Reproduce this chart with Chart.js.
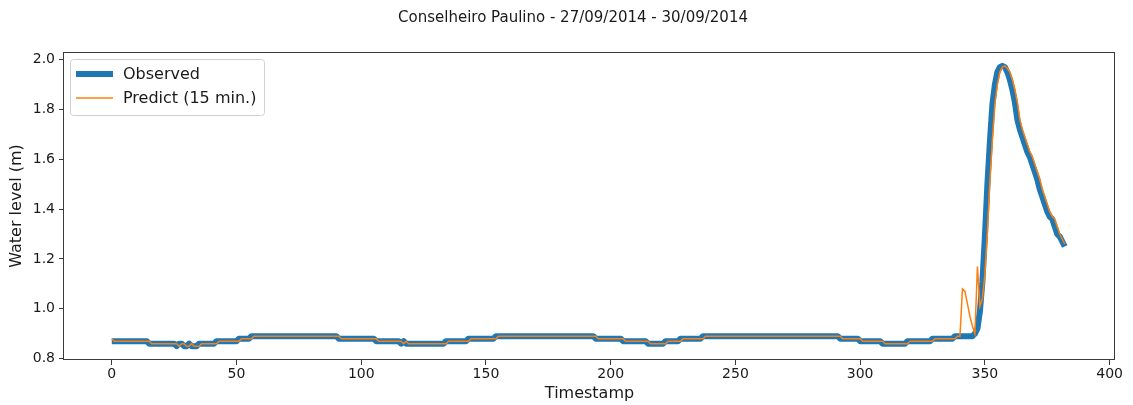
<!DOCTYPE html>
<html>
<head>
<meta charset="utf-8">
<title>Conselheiro Paulino</title>
<script src="https://cdn.jsdelivr.net/npm/chart.js@4.4.1/dist/chart.umd.min.js"></script>
<style>
  html, body { margin: 0; padding: 0; background: #fff; }
  canvas { display: block; }
</style>
</head>
<body>
<canvas id="levelChart" width="1133" height="405"></canvas>
<script>
const chartTitle = 'Conselheiro Paulino - 27/09/2014 - 30/09/2014';
const seriesNames = ['Observed', 'Predict (15 min.)'];
const xTicks = [0, 50, 100, 150, 200, 250, 300, 350, 400];
const yTicks = [0.8, 1.0, 1.2, 1.4, 1.6, 1.8, 2.0];

// water level (m), one reading per timestamp step
const observed = [
  0.87, 0.87, 0.87, 0.87, 0.87, 0.87, 0.87, 0.87, 0.87, 0.87,
  0.87, 0.87, 0.87, 0.87, 0.87, 0.86, 0.86, 0.86, 0.86, 0.86,
  0.86, 0.86, 0.86, 0.86, 0.86, 0.86, 0.85, 0.86, 0.86, 0.85,
  0.85, 0.86, 0.85, 0.85, 0.85, 0.86, 0.86, 0.86, 0.86, 0.86,
  0.86, 0.86, 0.87, 0.87, 0.87, 0.87, 0.87, 0.87, 0.87, 0.87,
  0.87, 0.88, 0.88, 0.88, 0.88, 0.88, 0.89, 0.89, 0.89, 0.89,
  0.89, 0.89, 0.89, 0.89, 0.89, 0.89, 0.89, 0.89, 0.89, 0.89,
  0.89, 0.89, 0.89, 0.89, 0.89, 0.89, 0.89, 0.89, 0.89, 0.89,
  0.89, 0.89, 0.89, 0.89, 0.89, 0.89, 0.89, 0.89, 0.89, 0.89,
  0.89, 0.88, 0.88, 0.88, 0.88, 0.88, 0.88, 0.88, 0.88, 0.88,
  0.88, 0.88, 0.88, 0.88, 0.88, 0.88, 0.87, 0.87, 0.87, 0.87,
  0.87, 0.87, 0.87, 0.87, 0.87, 0.87, 0.86, 0.87, 0.86, 0.86,
  0.86, 0.86, 0.86, 0.86, 0.86, 0.86, 0.86, 0.86, 0.86, 0.86,
  0.86, 0.86, 0.86, 0.86, 0.87, 0.87, 0.87, 0.87, 0.87, 0.87,
  0.87, 0.87, 0.87, 0.88, 0.88, 0.88, 0.88, 0.88, 0.88, 0.88,
  0.88, 0.88, 0.88, 0.88, 0.89, 0.89, 0.89, 0.89, 0.89, 0.89,
  0.89, 0.89, 0.89, 0.89, 0.89, 0.89, 0.89, 0.89, 0.89, 0.89,
  0.89, 0.89, 0.89, 0.89, 0.89, 0.89, 0.89, 0.89, 0.89, 0.89,
  0.89, 0.89, 0.89, 0.89, 0.89, 0.89, 0.89, 0.89, 0.89, 0.89,
  0.89, 0.89, 0.89, 0.89, 0.88, 0.88, 0.88, 0.88, 0.88, 0.88,
  0.88, 0.88, 0.88, 0.88, 0.88, 0.87, 0.87, 0.87, 0.87, 0.87,
  0.87, 0.87, 0.87, 0.87, 0.87, 0.86, 0.86, 0.86, 0.86, 0.86,
  0.86, 0.86, 0.87, 0.87, 0.87, 0.87, 0.87, 0.87, 0.88, 0.88,
  0.88, 0.88, 0.88, 0.88, 0.88, 0.88, 0.88, 0.89, 0.89, 0.89,
  0.89, 0.89, 0.89, 0.89, 0.89, 0.89, 0.89, 0.89, 0.89, 0.89,
  0.89, 0.89, 0.89, 0.89, 0.89, 0.89, 0.89, 0.89, 0.89, 0.89,
  0.89, 0.89, 0.89, 0.89, 0.89, 0.89, 0.89, 0.89, 0.89, 0.89,
  0.89, 0.89, 0.89, 0.89, 0.89, 0.89, 0.89, 0.89, 0.89, 0.89,
  0.89, 0.89, 0.89, 0.89, 0.89, 0.89, 0.89, 0.89, 0.89, 0.89,
  0.89, 0.89, 0.88, 0.88, 0.88, 0.88, 0.88, 0.88, 0.88, 0.88,
  0.87, 0.87, 0.87, 0.87, 0.87, 0.87, 0.87, 0.87, 0.87, 0.86,
  0.86, 0.86, 0.86, 0.86, 0.86, 0.86, 0.86, 0.86, 0.86, 0.87,
  0.87, 0.87, 0.87, 0.87, 0.87, 0.87, 0.87, 0.87, 0.87, 0.88,
  0.88, 0.88, 0.88, 0.88, 0.88, 0.88, 0.88, 0.88, 0.89, 0.89,
  0.89, 0.89, 0.89, 0.89, 0.89, 0.89, 0.90, 0.92, 0.99, 1.11,
  1.29, 1.50, 1.67, 1.82, 1.90, 1.95, 1.97, 1.975, 1.97, 1.95,
  1.92, 1.88, 1.83, 1.76, 1.72, 1.69, 1.66, 1.63, 1.61, 1.58,
  1.55, 1.52, 1.48, 1.45, 1.42, 1.39, 1.37, 1.36, 1.33, 1.30,
  1.29, 1.27, 1.25
];

// 15-minute-ahead forecast for the same timestamps
const predicted = [
  0.88, 0.87, 0.87, 0.87, 0.87, 0.87, 0.87, 0.87, 0.87, 0.87,
  0.87, 0.87, 0.87, 0.87, 0.87, 0.87, 0.86, 0.86, 0.86, 0.86,
  0.86, 0.86, 0.86, 0.86, 0.86, 0.86, 0.86, 0.85, 0.86, 0.86,
  0.85, 0.85, 0.86, 0.85, 0.85, 0.85, 0.86, 0.86, 0.86, 0.86,
  0.86, 0.86, 0.86, 0.87, 0.87, 0.87, 0.87, 0.87, 0.87, 0.87,
  0.87, 0.87, 0.88, 0.88, 0.88, 0.88, 0.88, 0.89, 0.89, 0.89,
  0.89, 0.89, 0.89, 0.89, 0.89, 0.89, 0.89, 0.89, 0.89, 0.89,
  0.89, 0.89, 0.89, 0.89, 0.89, 0.89, 0.89, 0.89, 0.89, 0.89,
  0.89, 0.89, 0.89, 0.89, 0.89, 0.89, 0.89, 0.89, 0.89, 0.89,
  0.89, 0.89, 0.88, 0.88, 0.88, 0.88, 0.88, 0.88, 0.88, 0.88,
  0.88, 0.88, 0.88, 0.88, 0.88, 0.88, 0.88, 0.87, 0.87, 0.87,
  0.87, 0.87, 0.87, 0.87, 0.87, 0.87, 0.87, 0.86, 0.87, 0.86,
  0.86, 0.86, 0.86, 0.86, 0.86, 0.86, 0.86, 0.86, 0.86, 0.86,
  0.86, 0.86, 0.86, 0.86, 0.86, 0.87, 0.87, 0.87, 0.87, 0.87,
  0.87, 0.87, 0.87, 0.87, 0.88, 0.88, 0.88, 0.88, 0.88, 0.88,
  0.88, 0.88, 0.88, 0.88, 0.88, 0.89, 0.89, 0.89, 0.89, 0.89,
  0.89, 0.89, 0.89, 0.89, 0.89, 0.89, 0.89, 0.89, 0.89, 0.89,
  0.89, 0.89, 0.89, 0.89, 0.89, 0.89, 0.89, 0.89, 0.89, 0.89,
  0.89, 0.89, 0.89, 0.89, 0.89, 0.89, 0.89, 0.89, 0.89, 0.89,
  0.89, 0.89, 0.89, 0.89, 0.89, 0.88, 0.88, 0.88, 0.88, 0.88,
  0.88, 0.88, 0.88, 0.88, 0.88, 0.88, 0.87, 0.87, 0.87, 0.87,
  0.87, 0.87, 0.87, 0.87, 0.87, 0.87, 0.86, 0.86, 0.86, 0.86,
  0.86, 0.86, 0.86, 0.87, 0.87, 0.87, 0.87, 0.87, 0.87, 0.88,
  0.88, 0.88, 0.88, 0.88, 0.88, 0.88, 0.88, 0.88, 0.89, 0.89,
  0.89, 0.89, 0.89, 0.89, 0.89, 0.89, 0.89, 0.89, 0.89, 0.89,
  0.89, 0.89, 0.89, 0.89, 0.89, 0.89, 0.89, 0.89, 0.89, 0.89,
  0.89, 0.89, 0.89, 0.89, 0.89, 0.89, 0.89, 0.89, 0.89, 0.89,
  0.89, 0.89, 0.89, 0.89, 0.89, 0.89, 0.89, 0.89, 0.89, 0.89,
  0.89, 0.89, 0.89, 0.89, 0.89, 0.89, 0.89, 0.89, 0.89, 0.89,
  0.89, 0.89, 0.89, 0.88, 0.88, 0.88, 0.88, 0.88, 0.88, 0.88,
  0.88, 0.87, 0.87, 0.87, 0.87, 0.87, 0.87, 0.87, 0.87, 0.87,
  0.86, 0.86, 0.86, 0.86, 0.86, 0.86, 0.86, 0.86, 0.86, 0.86,
  0.87, 0.87, 0.87, 0.87, 0.87, 0.87, 0.87, 0.87, 0.87, 0.87,
  0.88, 0.88, 0.88, 0.88, 0.88, 0.88, 0.88, 0.88, 0.88, 0.89,
  0.89, 1.08, 1.07, 1.02, 0.97, 0.93, 0.90, 1.17, 1.01, 1.04,
  1.14, 1.31, 1.51, 1.68, 1.82, 1.90, 1.95, 1.97, 1.975, 1.965,
  1.95, 1.92, 1.88, 1.83, 1.76, 1.72, 1.69, 1.66, 1.63, 1.61,
  1.58, 1.55, 1.52, 1.48, 1.45, 1.42, 1.39, 1.37, 1.36, 1.33,
  1.30, 1.28, 1.26
];

const timestamps = observed.map((_, i) => i);
const toPoints = values => values.map((v, i) => ({ x: timestamps[i], y: v }));

const FONT = 'DejaVu Sans';
const TEXT = '#1a1a1a';
const AXIS = '#3a3a3a';

// box around the plot, title on top, legend in the upper left corner
const decorations = {
  id: 'decorations',
  afterDraw(chart) {
    const { ctx, chartArea: a } = chart;
    ctx.save();

    ctx.strokeStyle = AXIS;
    ctx.lineWidth = 1;
    ctx.strokeRect(Math.round(a.left) - 0.5, Math.round(a.top) + 0.5,
      Math.round(a.right - a.left), Math.round(a.bottom - a.top) - 1);

    ctx.fillStyle = TEXT;
    ctx.font = '15px "' + FONT + '"';
    ctx.textAlign = 'center';
    ctx.textBaseline = 'middle';
    ctx.fillText(chartTitle, 573, 18);

    const bx = a.left + 6, by = a.top + 7, bw = 194, bh = 56;
    ctx.beginPath();
    ctx.roundRect(bx + 0.5, by + 0.5, bw, bh, 3);
    ctx.fillStyle = 'rgba(255,255,255,0.8)';
    ctx.fill();
    ctx.strokeStyle = '#d0d0d0';
    ctx.stroke();

    ctx.font = '16px "' + FONT + '"';
    ctx.textAlign = 'left';
    chart.data.datasets.forEach((ds, i) => {
      const y = by + 15 + i * 24;
      ctx.beginPath();
      ctx.moveTo(bx + 6, y);
      ctx.lineTo(bx + 43, y);
      ctx.strokeStyle = ds.borderColor;
      ctx.lineWidth = ds.borderWidth;
      ctx.lineCap = 'butt';
      ctx.stroke();
      ctx.fillStyle = TEXT;
      ctx.fillText(ds.label, bx + 53, y + 1);
    });

    ctx.restore();
  }
};

new Chart(document.getElementById('levelChart'), {
  type: 'line',
  data: {
    datasets: [
      {
        label: seriesNames[0],
        data: toPoints(observed),
        borderColor: '#1f77b4',
        borderWidth: 6,
        borderJoinStyle: 'round',
        pointRadius: 0,
        tension: 0,
        order: 2
      },
      {
        label: seriesNames[1],
        data: toPoints(predicted),
        borderColor: '#ff7f0e',
        borderWidth: 1.5,
        pointRadius: 0,
        tension: 0,
        order: 1
      }
    ]
  },
  options: {
    responsive: false,
    animation: false,
    devicePixelRatio: 1,
    layout: { padding: { top: 52, right: 18, bottom: 0, left: 0 } },
    plugins: {
      legend: { display: false },
      title: { display: false },
      tooltip: { enabled: false }
    },
    scales: {
      x: {
        type: 'linear',
        min: -19.15,
        max: 402.15,
        afterBuildTicks: s => { s.ticks = xTicks.map(v => ({ value: v })); },
        afterFit: s => { s.height = 45; },
        ticks: {
          autoSkip: false,
          maxRotation: 0,
          padding: 1,
          color: TEXT,
          font: { family: FONT, size: 14 },
          callback: v => String(v)
        },
        grid: { drawOnChartArea: false, tickLength: 5, tickColor: AXIS, color: AXIS },
        border: { display: false },
        title: {
          display: true,
          text: 'Timestamp',
          color: TEXT,
          font: { family: FONT, size: 16 },
          padding: { top: 0, bottom: 2 }
        }
      },
      y: {
        min: 0.7945,
        max: 2.0305,
        afterBuildTicks: s => { s.ticks = yTicks.map(v => ({ value: v })); },
        afterFit: s => { s.width = 64; },
        ticks: {
          padding: 4,
          color: TEXT,
          font: { family: FONT, size: 14 },
          callback: v => v.toFixed(1)
        },
        grid: { drawOnChartArea: false, tickLength: 5, tickColor: AXIS, color: AXIS },
        border: { display: false },
        title: {
          display: true,
          text: 'Water level (m)',
          color: TEXT,
          font: { family: FONT, size: 16 },
          padding: { top: 7, bottom: 0 }
        }
      }
    }
  },
  plugins: [decorations]
});
</script>
</body>
</html>
